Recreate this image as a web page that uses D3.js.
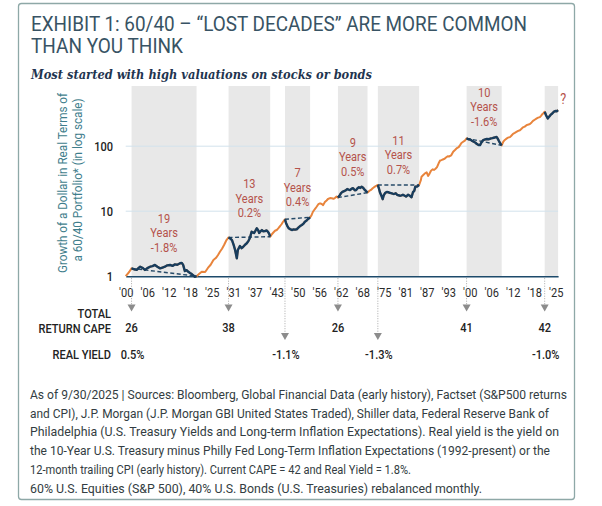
<!DOCTYPE html>
<html>
<head>
<meta charset="utf-8">
<script src="https://cdn.jsdelivr.net/npm/d3@7"></script>
<style>
  body { margin: 0; background: #fff; }
  svg { display: block; }
</style>
</head>
<body>
<div id="chart"></div>
<script>
"use strict";

/* DATA */

// growth of a dollar in real terms (60/40)
let years = [
  1900.0, 1900.5, 1901.0, 1901.7, 1902.4, 1903.2, 1903.7, 1904.2, 1905.0, 1905.6,
  1906.3, 1907.1, 1907.8, 1908.5, 1909.2, 1910.0, 1910.7, 1911.4, 1912.1, 1912.9,
  1913.6, 1914.3, 1915.0, 1915.8, 1916.3, 1916.7, 1917.2, 1917.7, 1918.2, 1918.7,
  1919.2, 1920.1, 1920.6, 1921.3, 1922.1, 1923.1, 1923.9, 1924.7, 1925.5, 1926.2,
  1926.8, 1927.4, 1928.0, 1928.6, 1929.3, 1929.9, 1930.4, 1930.9, 1931.4, 1931.8,
  1932.3, 1932.6, 1933.2, 1933.7, 1934.1, 1934.7, 1935.2, 1935.7, 1936.1, 1936.6,
  1937.3, 1937.7, 1938.1, 1938.5, 1938.8, 1939.2, 1939.6, 1940.0, 1940.5, 1941.0,
  1941.4, 1941.7, 1942.0, 1942.4, 1942.8, 1943.4, 1943.9, 1944.4, 1944.9, 1945.3,
  1945.7, 1946.3, 1946.6, 1947.0, 1947.4, 1947.8, 1948.3, 1948.8, 1949.3, 1949.7,
  1950.2, 1950.7, 1951.2, 1951.7, 1952.1, 1952.6, 1953.0, 1953.3, 1953.6, 1954.0,
  1954.4, 1955.0, 1955.5, 1956.0, 1956.5, 1957.0, 1957.4, 1957.9, 1958.4, 1958.8,
  1959.4, 1959.9, 1960.4, 1960.8, 1961.3, 1961.7, 1962.2, 1962.6, 1963.0, 1963.5,
  1964.0, 1964.4, 1964.8, 1965.2, 1965.7, 1966.1, 1966.6, 1967.0, 1967.4, 1967.8,
  1968.2, 1968.6, 1969.0, 1969.3, 1969.8, 1970.3, 1970.8, 1971.3, 1971.8, 1972.2,
  1972.8, 1973.3, 1973.6, 1973.9, 1974.3, 1974.7, 1975.0, 1975.4, 1975.9, 1976.3,
  1976.7, 1977.1, 1977.6, 1978.0, 1978.5, 1978.9, 1979.3, 1979.7, 1980.2, 1980.6,
  1981.0, 1981.5, 1982.1, 1982.6, 1983.1, 1983.5, 1983.9, 1984.2, 1984.7, 1985.3,
  1985.8, 1986.0, 1986.5, 1987.0, 1987.5, 1987.9, 1988.3, 1988.7, 1989.2, 1989.6,
  1990.1, 1990.5, 1991.0, 1991.4, 1991.8, 1992.2, 1992.7, 1993.1, 1993.6, 1994.0,
  1994.6, 1995.2, 1995.8, 1996.3, 1996.8, 1997.2, 1997.6, 1998.0, 1998.6, 1999.1,
  1999.6, 2000.1, 2000.6, 2001.2, 2001.7, 2002.1, 2002.6, 2003.0, 2003.4, 2003.9,
  2004.5, 2005.0, 2005.6, 2006.2, 2006.6, 2007.0, 2007.4, 2007.8, 2008.1, 2008.5,
  2008.9, 2009.3, 2009.8, 2010.3, 2010.8, 2011.2, 2011.7, 2012.1, 2012.6, 2013.1,
  2013.7, 2014.1, 2014.6, 2015.0, 2015.5, 2016.0, 2016.6, 2017.1, 2017.5, 2018.0,
  2018.4, 2018.9, 2019.5, 2019.9, 2020.4, 2020.8, 2021.1, 2021.5, 2021.8, 2022.2,
  2022.7, 2023.1, 2023.5, 2024.0, 2024.4, 2024.9, 2025.3, 2025.7
];
let growth = [
  1.00, 1.08, 1.16, 1.32, 1.28, 1.25, 1.33, 1.40, 1.33, 1.25,
  1.33, 1.40, 1.43, 1.49, 1.40, 1.32, 1.36, 1.40, 1.47, 1.49,
  1.44, 1.52, 1.50, 1.58, 1.60, 1.49, 1.20, 1.24, 1.17, 1.12,
  1.08, 0.98, 1.00, 1.08, 1.17, 1.16, 1.34, 1.50, 1.77, 1.90,
  2.10, 2.38, 2.65, 3.02, 3.60, 3.94, 3.80, 3.60, 3.00, 2.53,
  1.89, 2.53, 2.91, 2.70, 2.81, 3.05, 3.21, 3.50, 3.87, 4.83,
  4.62, 5.00, 5.46, 5.10, 4.62, 4.90, 5.13, 4.90, 4.96, 5.05,
  4.78, 4.50, 4.05, 4.35, 4.62, 5.00, 5.13, 5.50, 5.92, 6.30,
  6.82, 7.52, 6.60, 5.90, 5.46, 5.30, 5.13, 5.25, 5.20, 5.27,
  5.60, 5.90, 6.13, 6.45, 6.89, 7.20, 7.58, 7.80, 8.06, 8.60,
  9.72, 10.8, 11.7, 12.8, 13.2, 12.9, 12.4, 13.8, 14.6, 15.4,
  15.9, 15.8, 15.5, 15.9, 16.8, 16.2, 17.5, 19.0, 19.8, 20.4,
  21.0, 21.9, 21.5, 21.2, 22.2, 22.6, 21.0, 21.2, 22.5, 23.4,
  22.8, 23.8, 23.0, 21.9, 20.5, 19.3, 20.5, 21.2, 22.5, 23.4,
  24.5, 25.3, 22.5, 19.6, 17.5, 15.3, 17.5, 19.0, 19.8, 19.6,
  19.2, 19.0, 18.6, 18.4, 18.9, 17.9, 17.6, 17.3, 17.5, 17.9,
  17.4, 16.8, 17.9, 17.3, 16.4, 19.6, 20.6, 23.9, 24.0, 25.3,
  30.0, 34.0, 36.0, 38.2, 39.5, 34.8, 37.5, 41.6, 44.0, 43.2,
  45.0, 47.8, 55.0, 60.1, 61.0, 62.5, 64.0, 67.0, 70.0, 69.4,
  72.0, 82.1, 88.0, 93.6, 97.0, 104, 112, 116, 122, 132,
  128, 127, 122, 117, 113, 108, 104, 104, 114, 124,
  127, 129, 128, 132, 133, 135, 137, 139, 132, 120,
  110, 103, 118, 126, 132, 136, 138, 145, 155, 160,
  167, 172, 176, 184, 195, 200, 212, 216, 220, 232,
  245, 255, 268, 275, 280, 296, 311, 325, 339, 300,
  267, 285, 303, 318, 337, 348, 345, 359
];

// "lost decade" periods
let periodStart = [1901.7, 1929.9, 1946.3, 1961.7, 1973.3, 1999.1, 2021.8];
let periodEnd = [1920.6, 1942.0, 1953.6, 1970.3, 1985.3, 2009.3, 2025.7];
let periodLength = ["19", "13", "7", "9", "11", "10", "?"];
let periodReturn = ["-1.8%", "0.2%", "0.4%", "0.5%", "0.7%", "-1.6%", ""];
let startCape = ["26", "38", "", "26", "", "41", "42"];
let startYield = ["0.5%", "", "-1.1%", "", "-1.3%", "", "-1.0%"];

// axis ticks
let tickYears = [1900, 1906.25, 1912.5, 1918.75, 1925, 1931.25, 1937.5, 1943.75, 1950, 1956.25,
  1962.5, 1968.75, 1975, 1981.25, 1987.5, 1993.75, 2000, 2006.25, 2012.5, 2018.75, 2025];
let tickLabels = ["'00", "'06", "'12", "'18", "'25", "'31", "'37", "'43", "'50", "'56",
  "'62", "'68", "'75", "'81", "'87", "'93", "'00", "'06", "'12", "'18", "'25"];
let yTicks = [1, 10, 100];
let gridValues = [10, 100];

let footnotes = [
  "As of 9/30/2025 | Sources: Bloomberg, Global Financial Data (early history), Factset (S&P500 returns",
  "and CPI), J.P. Morgan (J.P. Morgan GBI United States Traded), Shiller data, Federal Reserve Bank of",
  "Philadelphia (U.S. Treasury Yields and Long-term Inflation Expectations). Real yield is the yield on",
  "the 10-Year U.S. Treasury minus Philly Fed Long-Term Inflation Expectations (1992-present) or the",
  "12-month trailing CPI (early history). Current CAPE = 42 and Real Yield = 1.8%.",
  "60% U.S. Equities (S&P 500), 40% U.S. Bonds (U.S. Treasuries) rebalanced monthly."
];
let footnoteWidths = [537, 519, 529, 520, 381, 452];


/* SVG SETUP */

let svgWidth = 602;
let svgHeight = 506;
let font = "Roboto, 'Liberation Sans', sans-serif";

let svg = d3.select("#chart")
  .append("svg")
  .attr("width", svgWidth)
  .attr("height", svgHeight);

// outer frame
svg.append("rect")
  .attr("x", 18.5)
  .attr("y", 3.5)
  .attr("width", 556)
  .attr("height", 496)
  .attr("rx", 3)
  .attr("fill", "none")
  .attr("stroke", "#8ea8a7")
  .attr("stroke-width", 1.3);

// small helper for condensed looking text
function label(x, y, str, size, fill, weight, anchor, sx) {
  return svg.append("text")
    .attr("transform", "translate(" + x + "," + y + ") scale(" + sx + ",1)")
    .attr("text-anchor", anchor)
    .attr("font-family", font)
    .attr("font-size", size)
    .attr("font-weight", weight)
    .attr("fill", fill)
    .text(str);
}


/* TITLES */

svg.append("text")
  .attr("x", 31)
  .attr("y", 30.5)
  .attr("font-family", font)
  .attr("font-size", 20)
  .attr("fill", "#385364")
  .attr("textLength", 496)
  .attr("lengthAdjust", "spacingAndGlyphs")
  .text("EXHIBIT 1: 60/40 \u2013 \u201CLOST DECADES\u201D ARE MORE COMMON");

svg.append("text")
  .attr("x", 31)
  .attr("y", 53)
  .attr("font-family", font)
  .attr("font-size", 20)
  .attr("fill", "#385364")
  .attr("textLength", 152)
  .attr("lengthAdjust", "spacingAndGlyphs")
  .text("THAN YOU THINK");

svg.append("text")
  .attr("x", 31)
  .attr("y", 79)
  .attr("font-family", "'DejaVu Serif', serif")
  .attr("font-size", 13.5)
  .attr("font-weight", "bold")
  .attr("font-style", "italic")
  .attr("fill", "#1f3550")
  .attr("textLength", 341)
  .attr("lengthAdjust", "spacingAndGlyphs")
  .text("Most started with high valuations on stocks or bonds");


/* SCALES */

let plotTop = 86;

let x = d3.scaleLinear()
  .domain([1900, 2025.7])
  .range([125.7, 558.1]);

let y = d3.scaleLog()
  .domain([1, 100])
  .range([276.2, 146.2]);

let points = years.map(function (yr, i) {
  return { year: yr, value: growth[i] };
});


/* SHADED PERIODS */

for (let i = 0; i < periodStart.length; i++) {
  svg.append("rect")
    .attr("x", x(periodStart[i]))
    .attr("y", plotTop)
    .attr("width", x(periodEnd[i]) - x(periodStart[i]))
    .attr("height", y(1) - plotTop)
    .attr("fill", "#e8e8e8");
}

// gridlines
for (let i = 0; i < gridValues.length; i++) {
  svg.append("line")
    .attr("x1", x.range()[0])
    .attr("x2", x.range()[1])
    .attr("y1", y(gridValues[i]))
    .attr("y2", y(gridValues[i]))
    .attr("stroke", "#d3e3ec")
    .attr("stroke-width", 1);
}


/* AXES */

let xAxis = svg.append("g")
  .attr("transform", "translate(0," + y(1) + ")")
  .call(d3.axisBottom(x)
    .tickValues(tickYears)
    .tickFormat(function (d, i) { return tickLabels[i]; })
    .tickSize(0)
    .tickSizeOuter(0)
    .tickPadding(12));

xAxis.select(".domain")
  .attr("stroke", "#1d4a6b")
  .attr("stroke-width", 1.6);

xAxis.selectAll("text")
  .attr("font-family", font)
  .attr("font-size", 13)
  .attr("fill", "#2b2b2b")
  .attr("transform", "scale(0.85,1)");

let yAxis = svg.append("g")
  .attr("transform", "translate(" + x.range()[0] + ",0)")
  .call(d3.axisLeft(y)
    .tickValues(yTicks)
    .tickFormat(d3.format("d"))
    .tickSize(0)
    .tickPadding(15));

yAxis.select(".domain").remove();

yAxis.selectAll("text")
  .attr("font-family", font)
  .attr("font-size", 13)
  .attr("font-weight", 500)
  .attr("fill", "#222")
  .attr("transform", "scale(0.85,1)");

// y-axis title (two rotated lines)
svg.append("text")
  .attr("transform", "translate(67,183) rotate(-90)")
  .attr("text-anchor", "middle")
  .attr("font-family", font)
  .attr("font-size", 12.5)
  .attr("fill", "#3f7e8c")
  .attr("textLength", 180)
  .attr("lengthAdjust", "spacingAndGlyphs")
  .text("Growth of a Dollar in Real Terms of");

svg.append("text")
  .attr("transform", "translate(82,180) rotate(-90)")
  .attr("text-anchor", "middle")
  .attr("font-family", font)
  .attr("font-size", 12.5)
  .attr("fill", "#3f7e8c")
  .attr("textLength", 163)
  .attr("lengthAdjust", "spacingAndGlyphs")
  .text("a 60/40 Portfolio* (in log scale)");


/* LINES */

let line = d3.line()
  .x(function (d) { return x(d.year); })
  .y(function (d) { return y(d.value); });

// whole series in orange
svg.append("path")
  .datum(points)
  .attr("d", line)
  .attr("fill", "none")
  .attr("stroke", "#e8843c")
  .attr("stroke-width", 2)
  .attr("stroke-linejoin", "round");

let red = "#b5534b";

for (let i = 0; i < periodStart.length; i++) {
  let part = points.filter(function (d) {
    return d.year >= periodStart[i] - 0.01 && d.year <= periodEnd[i] + 0.01;
  });
  let first = part[0];
  let last = part[part.length - 1];

  // start-to-end dashed line (not for the ongoing period)
  if (periodReturn[i] !== "") {
    svg.append("line")
      .attr("x1", x(first.year))
      .attr("y1", y(first.value))
      .attr("x2", x(last.year))
      .attr("y2", y(last.value))
      .attr("stroke", "#264a68")
      .attr("stroke-width", 1.4)
      .attr("stroke-dasharray", "4 2.5");
  }

  svg.append("path")
    .datum(part)
    .attr("d", line)
    .attr("fill", "none")
    .attr("stroke", "#173d5e")
    .attr("stroke-width", 2.4)
    .attr("stroke-linejoin", "round");

  // labels above the highest point of the period
  if (periodReturn[i] !== "") {
    let peak = d3.min(part, function (d) { return y(d.value); });
    let cx = x((periodStart[i] + periodEnd[i]) / 2);
    label(cx, peak - 40, periodLength[i], 13, red, 400, "middle", 0.85);
    label(cx, peak - 25.5, "Years", 13, red, 400, "middle", 0.85);
    label(cx, peak - 11, periodReturn[i], 13, red, 400, "middle", 0.85);
  } else {
    label(x(last.year) + 5, y(last.value) - 6.5, periodLength[i], 14, red, 400, "middle", 0.9);
  }
}


/* START-OF-PERIOD VALUATIONS */

let arrowColor = "#8c8c8c";

function arrow(cx, tipY) {
  svg.append("line")
    .attr("x1", cx)
    .attr("x2", cx)
    .attr("y1", y(1) + 2)
    .attr("y2", tipY - 7)
    .attr("stroke", "#a8a8a8")
    .attr("stroke-width", 1)
    .attr("stroke-dasharray", "1 1.5");
  svg.append("path")
    .attr("d", "M" + (cx - 4) + "," + (tipY - 7) + "L" + (cx + 4) + "," + (tipY - 7) + "L" + cx + "," + tipY + "Z")
    .attr("fill", arrowColor);
}

label(111, 317.5, "TOTAL", 13, "#222", 500, "end", 0.85);
label(111, 332.5, "RETURN CAPE", 13, "#222", 500, "end", 0.85);
label(111, 358.5, "REAL YIELD", 13, "#222", 500, "end", 0.85);

for (let i = 0; i < periodStart.length; i++) {
  let cx = x(periodStart[i]);
  if (startCape[i] !== "") {
    arrow(cx, 311.5);
    label(cx, 331.5, startCape[i], 13, "#222", 500, "middle", 0.85);
  } else {
    arrow(cx, 340);
  }
  if (startYield[i] !== "") {
    label(cx + 1, 358.5, startYield[i], 13, "#222", 500, "middle", 0.85);
  }
}


/* FOOTNOTE */

for (let i = 0; i < footnotes.length; i++) {
  svg.append("text")
    .attr("x", 30)
    .attr("y", 399 + i * 18.7)
    .attr("font-family", font)
    .attr("font-size", 12)
    .attr("fill", "#333d42")
    .attr("textLength", footnoteWidths[i])
    .attr("lengthAdjust", "spacingAndGlyphs")
    .text(footnotes[i]);
}
</script>
</body>
</html>
